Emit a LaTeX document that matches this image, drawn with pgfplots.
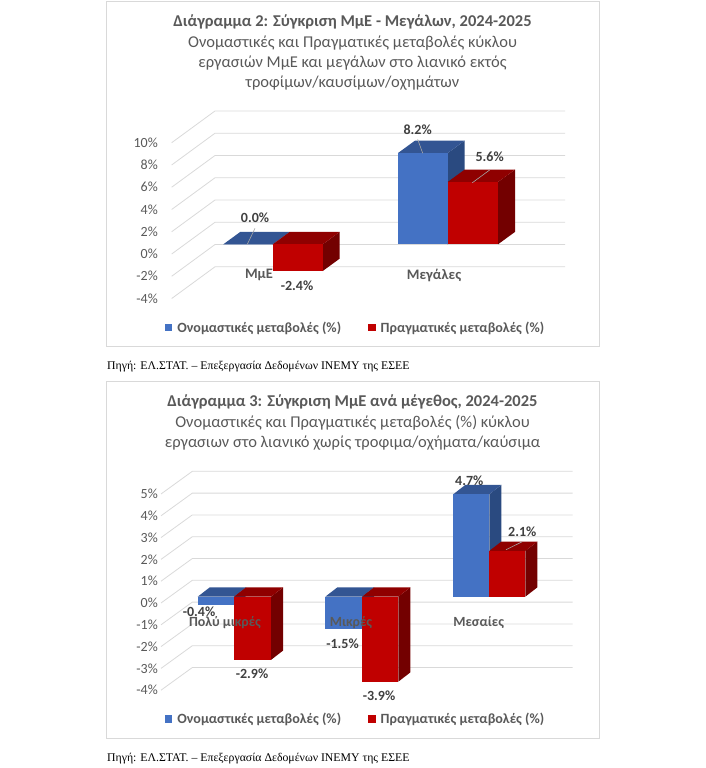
\documentclass[border=0pt]{standalone}
\usepackage{fontspec}
\setmainfont{Carlito}
\newfontfamily\srcfont{Liberation Serif}
\usepackage{pgfplots}
\pgfplotsset{compat=1.18}

\definecolor{gridgray}{HTML}{D9D9D9}
\definecolor{txtgray}{HTML}{595959}
\definecolor{valgray}{HTML}{404040}
\definecolor{leadgray}{HTML}{A6A6A6}
\definecolor{bluefront}{HTML}{4472C4}
\definecolor{bluetop}{HTML}{335593}
\definecolor{blueside}{HTML}{2A4A80}
\definecolor{redfront}{HTML}{C00000}
\definecolor{redtop}{HTML}{8F0000}
\definecolor{redside}{HTML}{730000}

% x0, x1, value, depth dx, depth dy, colour prefix
\newcommand\threedbar[6]{%
  \pgfmathsetmacro\bartop{max(#3,0)}%
  \pgfmathsetmacro\barbot{min(#3,0)}%
  \pgfmathsetmacro\backx{#2+#4}%
  \pgfmathsetmacro\backl{#1+#4}%
  \pgfmathsetmacro\backt{\bartop+#5}%
  \pgfmathsetmacro\backb{\barbot+#5}%
  \addplot[fill=#6side,draw=none,forget plot] coordinates {(#2,\bartop) (\backx,\backt) (\backx,\backb) (#2,\barbot)} -- cycle;
  \addplot[fill=#6top,draw=none,forget plot] coordinates {(#1,\bartop) (#2,\bartop) (\backx,\backt) (\backl,\backt)} -- cycle;
  \addplot[fill=#6front,draw=none,forget plot] coordinates {(#1,\bartop) (#2,\bartop) (#2,\barbot) (#1,\barbot)} -- cycle;
}
\newcommand\valuelabel[3]{\node[font=\fontsize{14}{16}\selectfont\bfseries,text=valgray] at (axis cs:#1,#2) {#3};}

\pgfplotsset{
  chartframe/.style={
    scale only axis,
    axis on top,
    axis lines=box,
    axis line style={gridgray,line width=0.8pt},
    major tick length=0pt,
    ticklabel style={text=txtgray},
    yticklabel style={font=\fontsize{14}{16}\selectfont,xshift=55.3pt},
    xticklabel style={font=\fontsize{14.5}{16}\selectfont\bfseries},
    title style={align=center,at={(0.5,1)},anchor=north,text=txtgray,font=\fontsize{16.5}{20.2}\selectfont},
    legend columns=2,
    legend style={draw=none,fill=none,font=\fontsize{14.1}{16}\selectfont\bfseries,text=txtgray,
      /tikz/every even column/.append style={column sep=25pt}},
    legend cell align=left,
    legend image code/.code={\fill[##1,draw=none] (0pt,-3.6pt) rectangle (7.6pt,4pt);\path[draw=none,fill=none] (0pt,0pt) -- (10.5pt,0pt);},
  },
  gridline/.style={gridgray,line width=0.8pt,forget plot},
  leader/.style={leadgray,line width=0.6pt,forget plot},
}

\begin{document}
\begin{tikzpicture}
\path[use as bounding box] (0pt,0pt) rectangle (706pt,-768pt);

% Chart 2
\begin{axis}[
  chartframe,
  at={(106pt,-1pt)}, anchor=north west,
  width=493pt, height=345.7pt,
  xmin=106, xmax=599, ymin=-9.2, ymax=21.86,
  ytick={9.13,7.13,5.13,3.13,1.13,-0.87,-2.87,-4.87},
  yticklabels={10\%,8\%,6\%,4\%,2\%,0\%,-2\%,-4\%},
  xtick={259,434},
  xticklabels={ΜμΕ,Μεγάλες},
  xticklabel style={yshift=81pt},
  title={\textbf{Διάγραμμα 2: Σύγκριση ΜμΕ - Μεγάλων, 2024-2025}\\
    Ονομαστικές και Πραγματικές μεταβολές κύκλου\\
    εργασιών ΜμΕ και μεγάλων στο λιανικό εκτός\\
    τροφίμων/καυσίμων/οχημάτων},
  title style={yshift=-16.5pt},
  legend style={at={(axis cs:355.5,-7.5)},anchor=center},
]
\addplot[gridline] coordinates {(171.7,9.13) (215,11.98) (565,11.98)};
\addplot[gridline] coordinates {(171.7,7.13) (215,9.98) (565,9.98)};
\addplot[gridline] coordinates {(171.7,5.13) (215,7.98) (565,7.98)};
\addplot[gridline] coordinates {(171.7,3.13) (215,5.98) (565,5.98)};
\addplot[gridline] coordinates {(171.7,1.13) (215,3.98) (565,3.98)};
\addplot[gridline] coordinates {(171.7,-0.87) (215,1.98) (565,1.98)};
\addplot[gridline] coordinates {(171.7,-2.87) (215,-0.02) (565,-0.02)};
\addplot[gridline] coordinates {(171.7,-4.87) (215,-2.02) (565,-2.02)};

\threedbar{223.3}{272.7}{0.0}{17}{1.114}{blue}
\threedbar{272.7}{322.7}{-2.4}{17}{1.114}{red}
\threedbar{398}{447.7}{8.2}{17}{1.114}{blue}
\threedbar{447.7}{498}{5.6}{17}{1.114}{red}

\addplot[leader] coordinates {(255,1.44) (247.3,0)};
\addplot[leader] coordinates {(417.7,9.43) (422.7,8.18)};
\addplot[leader] coordinates {(489.7,6.68) (472.3,5.53)};

\valuelabel{255}{2.36}{0.0\%}
\valuelabel{297}{-3.75}{-2.4\%}
\valuelabel{417.7}{10.33}{8.2\%}
\valuelabel{489.7}{7.87}{5.6\%}

\addlegendimage{fill=bluefront,draw=none}
\addlegendentry{Ονομαστικές μεταβολές (\%)}
\addlegendimage{fill=redfront,draw=none}
\addlegendentry{Πραγματικές μεταβολές (\%)}
\end{axis}

% Chart 3
\begin{axis}[
  chartframe,
  at={(106pt,-381pt)}, anchor=north west,
  width=493pt, height=357pt,
  xmin=106, xmax=599, ymin=-6.482, ymax=9.894,
  ytick={4.711,3.711,2.711,1.711,0.711,-0.289,-1.289,-2.289,-3.289,-4.289},
  yticklabels={5\%,4\%,3\%,2\%,1\%,0\%,-1\%,-2\%,-3\%,-4\%},
  xtick={225,351,478.7},
  xticklabels={Πολύ μικρές,Μικρές,Μεσαίες},
  xticklabel style={yshift=125pt,font=\fontsize{14}{16}\selectfont\bfseries},
  title={\textbf{Διάγραμμα 3: Σύγκριση ΜμΕ ανά μέγεθος, 2024-2025}\\
    Ονομαστικές και Πραγματικές μεταβολές (\%) κύκλου\\
    εργασιων στο λιανικό χωρίς τροφιμα/οχήματα/καύσιμα},
  title style={yshift=-16.5pt},
  legend style={at={(axis cs:355.5,-5.624)},anchor=center},
]
\addplot[gridline] coordinates {(161,4.711) (192.3,5.751) (572.7,5.751)};
\addplot[gridline] coordinates {(161,3.711) (192.3,4.751) (572.7,4.751)};
\addplot[gridline] coordinates {(161,2.711) (192.3,3.751) (572.7,3.751)};
\addplot[gridline] coordinates {(161,1.711) (192.3,2.751) (572.7,2.751)};
\addplot[gridline] coordinates {(161,0.711) (192.3,1.751) (572.7,1.751)};
\addplot[gridline] coordinates {(161,-0.289) (192.3,0.751) (572.7,0.751)};
\addplot[gridline] coordinates {(161,-1.289) (192.3,-0.249) (572.7,-0.249)};
\addplot[gridline] coordinates {(161,-2.289) (192.3,-1.249) (572.7,-1.249)};
\addplot[gridline] coordinates {(161,-3.289) (192.3,-2.249) (572.7,-2.249)};
\addplot[gridline] coordinates {(161,-4.289) (192.3,-3.249) (572.7,-3.249)};

\threedbar{197.7}{234}{-0.4}{12}{0.427}{blue}
\threedbar{234}{271}{-2.9}{12}{0.427}{red}
\threedbar{325.3}{362}{-1.5}{12}{0.427}{blue}
\threedbar{362}{398.3}{-3.9}{12}{0.427}{red}
\threedbar{453.3}{489.3}{4.7}{12}{0.427}{blue}
\threedbar{489.3}{525.3}{2.1}{12}{0.427}{red}

\addplot[leader] coordinates {(522.3,2.523) (506,2.156)};

\valuelabel{199}{-0.688}{-0.4\%}
\valuelabel{252}{-3.514}{-2.9\%}
\valuelabel{342.5}{-2.156}{-1.5\%}
\valuelabel{379}{-4.541}{-3.9\%}
\valuelabel{469.3}{5.339}{4.7\%}
\valuelabel{522.3}{2.982}{2.1\%}

\addlegendimage{fill=bluefront,draw=none}
\addlegendentry{Ονομαστικές μεταβολές (\%)}
\addlegendimage{fill=redfront,draw=none}
\addlegendentry{Πραγματικές μεταβολές (\%)}
\end{axis}

\node[anchor=west,inner sep=0pt,font=\srcfont\fontsize{11.77}{14}\selectfont] at (107pt,-366.5pt) {Πηγή: ΕΛ.ΣΤΑΤ. – Επεξεργασία Δεδομένων ΙΝΕΜΥ της ΕΣΕΕ};
\node[anchor=west,inner sep=0pt,font=\srcfont\fontsize{11.77}{14}\selectfont] at (107pt,-758.5pt) {Πηγή: ΕΛ.ΣΤΑΤ. – Επεξεργασία Δεδομένων ΙΝΕΜΥ της ΕΣΕΕ};
\end{tikzpicture}
\end{document}
